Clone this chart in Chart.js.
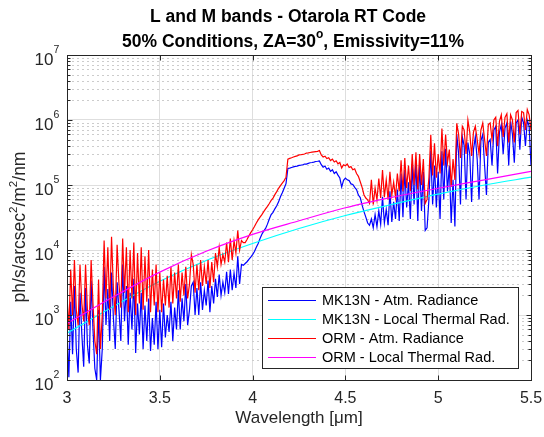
<!DOCTYPE html>
<html>
<head>
<meta charset="utf-8">
<script src="https://cdn.jsdelivr.net/npm/chart.js@4"></script>
<style>
  html, body { margin: 0; padding: 0; background: #fff; }
</style>
</head>
<body>
<canvas id="chart" width="544" height="437"></canvas>
<script>
// wavelength grid [um]
const wavelength = [
  3.00,3.01,3.02,3.03,3.04,3.05,3.06,3.07,3.08,3.09,
  3.10,3.11,3.12,3.13,3.14,3.15,3.16,3.17,3.18,3.19,
  3.20,3.21,3.22,3.23,3.24,3.25,3.26,3.27,3.28,3.29,
  3.30,3.31,3.32,3.33,3.34,3.35,3.36,3.37,3.38,3.39,
  3.40,3.41,3.42,3.43,3.44,3.45,3.46,3.47,3.48,3.49,
  3.50,3.51,3.52,3.53,3.54,3.55,3.56,3.57,3.58,3.59,
  3.60,3.61,3.62,3.63,3.64,3.65,3.66,3.67,3.68,3.69,
  3.70,3.71,3.72,3.73,3.74,3.75,3.76,3.77,3.78,3.79,
  3.80,3.81,3.82,3.83,3.84,3.85,3.86,3.87,3.88,3.89,
  3.90,3.91,3.92,3.93,3.94,3.95,3.96,3.97,3.98,3.99,
  4.00,4.01,4.02,4.03,4.04,4.05,4.06,4.07,4.08,4.09,
  4.10,4.11,4.12,4.13,4.14,4.15,4.16,4.17,4.18,4.19,
  4.20,4.21,4.22,4.23,4.24,4.25,4.26,4.27,4.28,4.29,
  4.30,4.31,4.32,4.33,4.34,4.35,4.36,4.37,4.38,4.39,
  4.40,4.41,4.42,4.43,4.44,4.45,4.46,4.47,4.48,4.49,
  4.50,4.51,4.52,4.53,4.54,4.55,4.56,4.57,4.58,4.59,
  4.60,4.61,4.62,4.63,4.64,4.65,4.66,4.67,4.68,4.69,
  4.70,4.71,4.72,4.73,4.74,4.75,4.76,4.77,4.78,4.79,
  4.80,4.81,4.82,4.83,4.84,4.85,4.86,4.87,4.88,4.89,
  4.90,4.91,4.92,4.93,4.94,4.95,4.96,4.97,4.98,4.99,
  5.00,5.01,5.02,5.03,5.04,5.05,5.06,5.07,5.08,5.09,
  5.10,5.11,5.12,5.13,5.14,5.15,5.16,5.17,5.18,5.19,
  5.20,5.21,5.22,5.23,5.24,5.25,5.26,5.27,5.28,5.29,
  5.30,5.31,5.32,5.33,5.34,5.35,5.36,5.37,5.38,5.39,
  5.40,5.41,5.42,5.43,5.44,5.45,5.46,5.47,5.48,5.49,
  5.50
];

// MK13N - Atm. Radiance (blue)
const mk13nAtm = [
  600,110,1600,250,2800,300,130,2200,500,160,
  2600,350,180,3400,600,150,100,1200,100,300,
  5500,700,2500,400,4500,900,300,3200,1200,400,
  6000,800,2800,350,2200,600,3600,260,1500,500,
  2200,300,1400,400,1800,280,900,350,1600,300,
  1200,320,1500,450,1000,550,1600,400,1300,600,
  2400,600,1800,800,3000,700,1200,2800,3200,1000,
  2600,1000,3200,1200,2400,1400,3400,1100,2800,1500,
  3600,1900,4200,2000,3200,2200,4600,2100,5000,2400,
  4400,2600,8000,3000,6000,5800,6200,6600,7200,7800,
  8500,9500,11000,12600,15000,17500,19500,21500,25000,30000,
  35000,38000,43000,48000,55000,66000,76000,89000,105000,180000,
  182000,186000,190000,193000,195000,200000,202000,205000,210000,210000,
  215000,220000,222000,225000,230000,232000,235000,205000,188000,196000,
  175000,182000,162000,172000,150000,160000,142000,128000,93000,118000,
  128000,120000,117000,104000,102000,92000,85000,70000,64000,49000,
  39000,32000,26000,24000,30000,22000,35000,23000,40000,25000,
  66000,26000,42000,24000,80000,27000,55000,30000,85000,28000,
  150000,32000,170000,45000,110000,30000,210000,50000,240000,28000,
  220000,40000,160000,20000,22000,60000,340000,50000,200000,45000,
  160000,30000,330000,60000,360000,80000,200000,26000,120000,23000,
  600000,300000,50000,550000,400000,60000,450000,300000,55000,350000,
  550000,250000,60000,480000,600000,200000,70000,450000,500000,200000,
  700000,800000,150000,650000,850000,300000,750000,900000,200000,950000,
  600000,220000,900000,1000000,350000,1100000,900000,400000,1000000,800000,
  200000
];

// ORM - Atm. Radiance (red)
const ormAtm = [
  2000,600,5000,1000,7000,1200,700,6000,1500,800,
  6000,1200,700,7000,1500,400,250,3500,300,1000,
  14000,1800,11000,1200,16000,2500,1000,12000,3000,1300,
  15000,2200,11000,1100,10000,1800,13000,1000,9000,1500,
  11000,1200,8000,1600,10000,1100,5000,1400,6000,1100,
  4500,1100,3500,1400,4000,1300,5500,1500,4500,1800,
  6000,1600,4500,2000,5500,1800,3000,8500,6000,2200,
  6000,2400,7000,2800,5500,3000,7000,2600,6500,3200,
  9000,5500,11000,6000,8500,6500,13000,6500,15000,7000,
  14000,9000,20000,10000,14000,13000,13000,14500,16500,18500,
  20500,23000,26000,29000,32000,35000,39000,43000,47000,52000,
  58000,63000,71000,79000,89000,98000,107000,117000,132000,250000,
  257000,263000,270000,275000,280000,290000,292000,295000,300000,310000,
  312000,316000,320000,324000,327000,330000,340000,290000,270000,278000,
  255000,262000,238000,250000,226000,236000,212000,222000,182000,205000,
  198000,210000,186000,192000,172000,178000,150000,136000,112000,92000,
  71000,63000,59000,52000,120000,50000,90000,59000,126000,63000,
  170000,65000,120000,60000,160000,70000,110000,65000,150000,80000,
  240000,80000,260000,90000,200000,80000,300000,100000,320000,85000,
  300000,100000,250000,52000,60000,130000,590000,140000,440000,130000,
  300000,150000,740000,200000,600000,220000,350000,93000,250000,120000,
  890000,600000,260000,800000,700000,300000,1000000,650000,280000,650000,
  800000,500000,300000,700000,900000,500000,280000,850000,900000,500000,
  1000000,1100000,400000,950000,1200000,550000,1100000,1250000,450000,1200000,
  1000000,450000,1300000,1400000,600000,1350000,1300000,700000,1450000,1200000,
  700000
];

// local thermal radiance curves
const thermalWavelength = [3.0, 3.25, 3.5, 3.75, 4.0, 4.25, 4.5, 4.75, 5.0, 5.25, 5.5];
const mk13nThermal = [525, 1350, 3300, 6900, 12600, 21400, 33900, 50100, 72400, 100000, 131800];
const ormThermal = [741, 1905, 4571, 9550, 17380, 28180, 44670, 64570, 89130, 120200, 162200];

// axes
const xTicks = [3, 3.5, 4, 4.5, 5, 5.5];
const xTickLabels = ['3', '3.5', '4', '4.5', '5', '5.5'];
const yTicks = [1e2, 1e3, 1e4, 1e5, 1e6, 1e7];
const yTickExponents = ['2', '3', '4', '5', '6', '7'];

const seriesNames = ['MK13N - Atm. Radiance', 'MK13N - Local Thermal Rad.', 'ORM - Atm. Radiance', 'ORM - Local Thermal Rad.'];
const seriesColors = ['#0000FF', '#00FFFF', '#FF0000', '#FF00FF'];

const FONT = '"Liberation Sans", Arial, Helvetica, sans-serif';
const AXIS_COLOR = '#262626';

function pts(xs, ys) {
  return xs.map((x, i) => ({ x: x, y: ys[i] }));
}

// draws a run of [text, isSuperscript] pieces starting at (x, y)
function drawPieces(ctx, pieces, x, y, size, supSize, supRise, bold) {
  const w = bold ? 'bold ' : '';
  pieces.forEach(([t, sup]) => {
    ctx.font = w + (sup ? supSize : size) + 'px ' + FONT;
    ctx.fillText(t, x, sup ? y - supRise : y);
    x += ctx.measureText(t).width;
  });
}
function piecesWidth(ctx, pieces, size, supSize, bold) {
  const w = bold ? 'bold ' : '';
  let total = 0;
  pieces.forEach(([t, sup]) => {
    ctx.font = w + (sup ? supSize : size) + 'px ' + FONT;
    total += ctx.measureText(t).width;
  });
  return total;
}

const decorations = {
  id: 'decorations',
  beforeDatasetsDraw(chart) {
    // minor dotted grid on y
    const ctx = chart.ctx, a = chart.chartArea, ys = chart.scales.y;
    ctx.save();
    ctx.strokeStyle = '#cccccc';
    ctx.lineWidth = 1;
    ctx.setLineDash([2, 3]);
    for (let e = 2; e < 7; e++) {
      for (let m = 2; m <= 9; m++) {
        const y = Math.round(ys.getPixelForValue(m * Math.pow(10, e))) + 0.5;
        ctx.beginPath();
        ctx.moveTo(a.left, y);
        ctx.lineTo(a.right, y);
        ctx.stroke();
      }
    }
    ctx.restore();
  },
  afterDatasetsDraw(chart) {
    const ctx = chart.ctx, a = chart.chartArea;
    const xs = chart.scales.x, ys = chart.scales.y;
    const L = Math.round(a.left) + 0.5, R = Math.round(a.right) + 0.5;
    const T = Math.round(a.top) + 0.5, B = Math.round(a.bottom) + 0.5;
    ctx.save();
    ctx.strokeStyle = AXIS_COLOR;
    ctx.lineWidth = 1;
    ctx.strokeRect(L, T, R - L, B - T);
    ctx.beginPath();
    xTicks.forEach(v => {
      const x = Math.round(xs.getPixelForValue(v)) + 0.5;
      ctx.moveTo(x, B); ctx.lineTo(x, B - 5);
      ctx.moveTo(x, T); ctx.lineTo(x, T + 5);
    });
    for (let e = 2; e <= 7; e++) {
      for (let m = 1; m <= 9; m++) {
        if (e === 7 && m > 1) break;
        const y = Math.round(ys.getPixelForValue(m * Math.pow(10, e))) + 0.5;
        const len = m === 1 ? 5 : 3;
        ctx.moveTo(L, y); ctx.lineTo(L + len, y);
        ctx.moveTo(R, y); ctx.lineTo(R - len, y);
      }
    }
    ctx.stroke();

    // legend box
    const lx = 262.5, ly = 287.5, lw = 256, lh = 81;
    ctx.fillStyle = '#fff';
    ctx.fillRect(lx, ly, lw, lh);
    ctx.strokeRect(lx, ly, lw, lh);
    ctx.font = '14.5px ' + FONT;
    ctx.textBaseline = 'middle';
    ctx.textAlign = 'left';
    seriesNames.forEach((name, i) => {
      const y = 300 + i * 19;
      ctx.strokeStyle = seriesColors[i];
      ctx.lineWidth = 1.2;
      ctx.beginPath();
      ctx.moveTo(268, y + 0.5);
      ctx.lineTo(316, y + 0.5);
      ctx.stroke();
      ctx.fillStyle = '#000';
      ctx.fillText(name, 322, y + 1);
    });
    ctx.restore();
  },
  afterDraw(chart) {
    const ctx = chart.ctx;
    const xs = chart.scales.x, ys = chart.scales.y, a = chart.chartArea;
    ctx.save();
    ctx.textBaseline = 'alphabetic';

    // tick labels
    ctx.fillStyle = AXIS_COLOR;
    ctx.font = '16px ' + FONT;
    ctx.textAlign = 'center';
    xTicks.forEach((v, i) => {
      ctx.fillText(xTickLabels[i], xs.getPixelForValue(v), a.bottom + 23);
    });
    yTicks.forEach((v, i) => {
      const y = ys.getPixelForValue(v);
      ctx.font = '17px ' + FONT;
      ctx.textAlign = 'right';
      ctx.fillText('10', a.left - 13.5, y + 10);
      ctx.font = '10.5px ' + FONT;
      ctx.textAlign = 'left';
      ctx.fillText(yTickExponents[i], a.left - 13.5, y - 2);
    });

    // axis titles
    ctx.font = '17px ' + FONT;
    ctx.textAlign = 'center';
    ctx.fillText('Wavelength [μm]', (a.left + a.right) / 2, 423);

    ctx.textAlign = 'left';
    const yl = [['ph/s/arcsec', false], ['2', true], ['/m', false], ['2', true], ['/nm', false]];
    const ylw = piecesWidth(ctx, yl, 17.5, 11.5, false);
    ctx.translate(25, 227);
    ctx.rotate(-Math.PI / 2);
    drawPieces(ctx, yl, -ylw / 2, 0, 17.5, 11.5, 8, false);
    ctx.setTransform(1, 0, 0, 1, 0, 0);

    // title
    ctx.fillStyle = '#000';
    ctx.font = 'bold 17.5px ' + FONT;
    ctx.textAlign = 'center';
    ctx.fillText('L and M bands - Otarola RT Code', 288, 22);
    ctx.textAlign = 'left';
    const tl = [['50% Conditions, ZA=30', false], ['o', true], [', Emissivity=11%', false]];
    const tlw = piecesWidth(ctx, tl, 17.5, 12, true);
    drawPieces(ctx, tl, 293 - tlw / 2, 47, 17.5, 12, 9, true);
    ctx.restore();
  }
};

const ctx = document.getElementById('chart');

const chart = new Chart(ctx, {
  type: 'line',
  data: {
    datasets: [
      { label: seriesNames[0], data: pts(wavelength, mk13nAtm), borderColor: seriesColors[0], order: 4 },
      { label: seriesNames[1], data: pts(thermalWavelength, mk13nThermal), borderColor: seriesColors[1], order: 3, cubicInterpolationMode: 'monotone' },
      { label: seriesNames[2], data: pts(wavelength, ormAtm), borderColor: seriesColors[2], order: 2 },
      { label: seriesNames[3], data: pts(thermalWavelength, ormThermal), borderColor: seriesColors[3], order: 1, cubicInterpolationMode: 'monotone' }
    ]
  },
  options: {
    responsive: false,
    animation: false,
    devicePixelRatio: 1,
    layout: { padding: { top: 55, right: 13, left: 0, bottom: 0 } },
    elements: {
      line: { borderWidth: 1.2, tension: 0 },
      point: { radius: 0 }
    },
    plugins: {
      legend: { display: false },
      title: { display: false },
      tooltip: { enabled: false }
    },
    scales: {
      x: {
        type: 'linear',
        min: 3, max: 5.5,
        afterBuildTicks: s => { s.ticks = xTicks.map(v => ({ value: v })); },
        afterFit: s => { s.height = 57; },
        ticks: { display: false },
        grid: { color: '#dedede', drawTicks: false },
        border: { display: false }
      },
      y: {
        type: 'logarithmic',
        min: 1e2, max: 1e7,
        afterBuildTicks: s => { s.ticks = yTicks.map(v => ({ value: v })); },
        afterFit: s => { s.width = 67; },
        ticks: { display: false },
        grid: { color: '#dedede', drawTicks: false },
        border: { display: false }
      }
    }
  },
  plugins: [decorations]
});
</script>
</body>
</html>
